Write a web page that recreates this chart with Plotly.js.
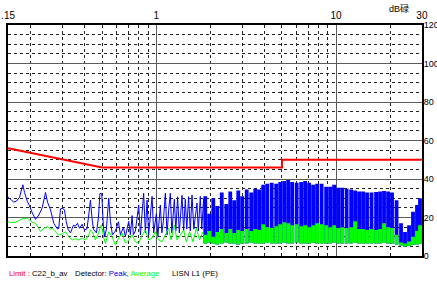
<!DOCTYPE html>
<html>
<head>
<meta charset="utf-8">
<script src="https://cdn.plot.ly/plotly-3.0.1.min.js"></script>
<style>html,body{margin:0;padding:0;background:#fff;}#chart{width:437px;height:282px;}</style>
</head>
<body>
<div id="chart"></div>
<script>
// ---- axis ticks ----
const xTickVals = [0.15, 1, 10, 30];
const xTickText = ['.15', '1', '10', '30'];
const xMinorVals = [0.2, 0.3, 0.4, 0.5, 0.6, 0.7, 0.8, 0.9, 2, 3, 4, 5, 6, 7, 8, 9, 20];
const yTickVals = [0, 20, 40, 60, 80, 100, 120];

// ---- limit line C22_b_av (MHz, dBuV) ----
const limF = [0.15, 0.5, 5, 5, 30];
const limV = [56, 46, 46, 50, 50];

// ---- peak detector, low-frequency part (MHz, dBuV) ----
const pkLineF = [0.15,0.1568,0.1615,0.1672,0.1737,0.1812,0.1852,0.1917,0.1974,0.2044,
  0.2132,0.2224,0.2322,0.2422,0.2485,0.2582,0.2694,0.2824,0.2871,0.2934,
  0.2998,0.3088,0.3156,0.3229,0.3334,0.3464,0.3554,0.3646,0.3740,0.3873,
  0.3988,0.4118,0.4197,0.4306,0.4389,0.4474,0.4649,0.4770,0.4862,0.4975,
  0.5084,0.5170,0.5283,0.5441,0.5561,0.5705,0.5929,0.6161,0.6320,0.6567,
  0.6737,0.7027,0.7181,0.7339,0.7462,0.7655,0.7985,0.8161,0.8512,0.8698,
  0.8890,0.9074,0.9477,0.9673,1.0013,1.0207,1.0538,1.0742,1.0950,1.1232,
  1.1479,1.1748,1.1976,1.2207,1.2603,1.2847,1.3146,1.3435,1.3906,1.4193,
  1.4505,1.4786,1.5130,1.5462,1.5802,1.6170,1.6845,1.7128,1.7572,1.7912,
  1.8330,1.8734];
const pkLineV = [30.5,29,28,28.5,30.5,37,33,28.5,26,22.5,
  19,21.3,25,33,28,24,17,14,14.4,24.5,
  24.8,24,18,14,12,16,15.5,17,14.4,16.5,
  13.5,14,20,29,20,14,12,20,32.5,32.5,
  15,10,14,30,18,11,13,17.8,11,15,
  10,18,11,21,11,13,26.5,11,32.6,12,
  29,11,31,12,22,10,26.5,12,18,32.6,
  11,25,32.6,12,29.5,13,30.8,12,31.5,13,
  29.5,14,30.8,13,31.7,14,27.5,13,31,14,
  29.5,15];

// ---- average detector, low-frequency part ----
const avLineF = [0.15,0.1548,0.1651,0.1812,0.1917,0.2044,0.2132,0.2215,0.2272,0.2370,
  0.2475,0.2582,0.2639,0.2753,0.2871,0.2998,0.3128,0.3262,0.3407,0.3554,
  0.3709,0.3873,0.4040,0.4213,0.4306,0.4417,0.4589,0.4788,0.4893,0.4956,
  0.5104,0.5216,0.5441,0.5683,0.5929,0.6185,0.6458,0.6737,0.7027,0.7339,
  0.7655,0.7985,0.8339,0.8698,0.9074,0.9477,0.9885,1.0312,1.0770,1.1232,
  1.1718,1.2083,1.2603,1.3046,1.3608,1.4193,1.4691,1.5324,1.6006,1.6696,
  1.7416,1.8189];
const avLineV = [17.8,17.3,17.5,19.5,19.6,17.6,17,14.5,12.8,14.4,
  15.2,14,14.4,12.6,10.9,11.5,12.6,10,8.3,9,
  8.3,9.4,8.3,10.9,13.5,12.5,8.3,12,15.5,16,
  9.5,6.6,12.6,10,5.7,9.4,11.8,6.6,8.3,10.9,
  7.4,6.6,10.9,13.5,8.3,9.4,12.6,8.3,7.4,10.9,
  14.4,8.3,16.1,8.3,10.9,13.5,7.4,12.6,7.4,14.4,
  8.3,12.6];

// ---- dense sweep above ~1.9 MHz: one entry per harmonic cluster ----
const clF = [1.873,1.972,2.075,2.184,2.313,2.451,2.579,2.714,2.857,3.007,
  3.184,3.373,3.550,3.736,3.932,4.139,4.384,4.644,4.888,5.144,
  5.414,5.698,6.035,6.392,6.728,7.081,7.452,7.843,8.307,8.801,
  9.263,9.748,10.26,10.80,11.44,12.12,12.75,13.42,14.12,14.86,
  15.74,16.68,17.55,18.47,19.45,20.46,21.68,22.96,24.16,25.43,
  26.76,28.17,29.27];
const clPeak = [31,22,30,26,33,27,33.5,29,34,31,
  34.5,33,35,34.5,37,37.5,38,37.5,38.5,39,
  39.5,38.5,38,38.5,39,38,37,37.5,37.5,36,
  36,37,35.5,35.5,35,34.5,34,33.5,33.5,33,
  33,33.2,33.5,33.8,33.5,33,29,17,12.5,16,
  23,26.5,30];
const clAvgTop = [11,13,10,12.5,14,12,14,12,13.5,13,
  14,13,14,13.5,16.5,15,14.5,15.5,16.5,17.5,
  17,16,16.5,15.5,16,15,16,17,16.5,16,
  15,16,14.5,15,14.5,15,18,14,14,13.5,
  14,13.5,14,17,15,14.5,11,7,6.5,7.5,
  10,13,16];
const clAvgBot = [6.5,7,6.5,6,6.5,7,6.5,6.5,6,6.5,
  6.5,7,6.5,6.5,6.5,7,6.5,6.5,6.5,7,
  6.5,6.5,7,6.5,6.5,6.5,7,6.5,6.5,6.5,
  6.5,7,6.5,6.5,6.5,6.5,7,6.5,6.5,6.5,
  6.5,6.5,6.5,7,6.5,6.5,6,5.5,5,5.2,
  5.8,6,6.5];

// cluster drawing: each cluster is a narrow column ~3.8 px wide on this log axis
const HALF = Math.pow(10, 1.9 / 180.1);
function colX() {
  const x = [];
  clF.forEach(f => { const a = f / HALF, b = Math.min(f * HALF, 30); x.push(a, a, b, b); });
  return x;
}
function colTop(top, bot) { const y = []; top.forEach((t, i) => y.push(bot[i], t, t, bot[i])); return y; }
function colBot(bot) { const y = []; bot.forEach(b => y.push(b, b, b, b)); return y; }

const BLUE = '#0000ff', GREEN = '#00ff00', RED = '#ff0000';
const cx = colX();
const traces = [
  {x: pkLineF, y: pkLineV, mode: 'lines', line: {color: BLUE, width: 1, simplify: false}, hoverinfo: 'skip'},
  {x: cx, y: colBot(clAvgBot), mode: 'lines', line: {width: 0, simplify: false}, hoverinfo: 'skip'},
  {x: cx, y: colTop(clPeak, clAvgBot), mode: 'lines', line: {width: 0, color: BLUE, simplify: false},
   fill: 'tonexty', fillcolor: BLUE, hoverinfo: 'skip'},
  {x: cx, y: colBot(clAvgBot), mode: 'lines', line: {width: 0, simplify: false}, hoverinfo: 'skip'},
  {x: cx, y: colTop(clAvgTop, clAvgBot), mode: 'lines', line: {width: 0, color: GREEN, simplify: false},
   fill: 'tonexty', fillcolor: GREEN, hoverinfo: 'skip'},
  {x: avLineF, y: avLineV, mode: 'lines', line: {color: GREEN, width: 1, simplify: false}, hoverinfo: 'skip'},
  {x: limF, y: limV, mode: 'lines', line: {color: RED, width: 2}, hoverinfo: 'skip'}
];

const FAM = 'Liberation Sans, Arial, sans-serif';
const xTickFont = {family: FAM, size: 10, color: '#000'};
const yTickFont = {family: FAM, size: 9, color: '#000'};
const txtFont = {family: FAM, size: 7.8, color: '#000'};
const PW = 414, PH = 231, ML = 8, MT = 25;
const px = v => (v - ML) / PW;
const py = v => (MT + PH - v) / PH;

const layout = {
  width: 437, height: 282,
  margin: {l: ML, r: 15, t: MT, b: 26, pad: 0},
  paper_bgcolor: '#fff', plot_bgcolor: '#fff',
  showlegend: false,
  xaxis: {
    type: 'log', range: [Math.log10(0.15) - 0.0004, Math.log10(30) + 0.0004],
    side: 'top', tickmode: 'array', tickvals: xTickVals, ticktext: xTickText, ticks: '',
    tickfont: xTickFont, showgrid: true, gridcolor: '#5a5a5a', gridwidth: 1, zeroline: false,
    showline: true, mirror: true, linecolor: '#000', linewidth: 2,
    minor: {tickmode: 'array', tickvals: xMinorVals, showgrid: true, gridcolor: '#222', griddash: '3px,3px', gridwidth: 1, ticks: ''},
    fixedrange: true
  },
  yaxis: {
    range: [0, 120], side: 'right', tickmode: 'array', tickvals: yTickVals, ticks: '',
    tickfont: yTickFont, showgrid: true, gridcolor: '#5a5a5a', gridwidth: 1, zeroline: false,
    showline: true, mirror: true, linecolor: '#000', linewidth: 2, ticklabelstandoff: -2,
    minor: {dtick: 5, showgrid: true, gridcolor: '#222', griddash: '3px,3px', gridwidth: 1, ticks: ''},
    fixedrange: true
  },
  annotations: [
    {xref: 'paper', yref: 'paper', x: px(387), y: py(9), xanchor: 'left', yanchor: 'middle', showarrow: false,
     text: 'dB碌', font: {family: 'Liberation Sans, Noto Sans CJK SC, sans-serif', size: 9, color: '#000'}},
    {xref: 'paper', yref: 'paper', x: px(7), y: py(273), xanchor: 'left', yanchor: 'middle', showarrow: false,
     text: '<span style="color:#ff0000">Limit :</span> C22_b_av', font: txtFont},
    {xref: 'paper', yref: 'paper', x: px(73), y: py(273), xanchor: 'left', yanchor: 'middle', showarrow: false,
     text: 'Detector: <span style="color:#0000ff">Peak,</span> <span style="color:#00ff00">Average</span>', font: txtFont},
    {xref: 'paper', yref: 'paper', x: px(170), y: py(273), xanchor: 'left', yanchor: 'middle', showarrow: false,
     text: 'LISN L1 (PE)', font: txtFont}
  ]
};

Plotly.newPlot('chart', traces, layout, {staticPlot: true, displayModeBar: false});
</script>
</body>
</html>
